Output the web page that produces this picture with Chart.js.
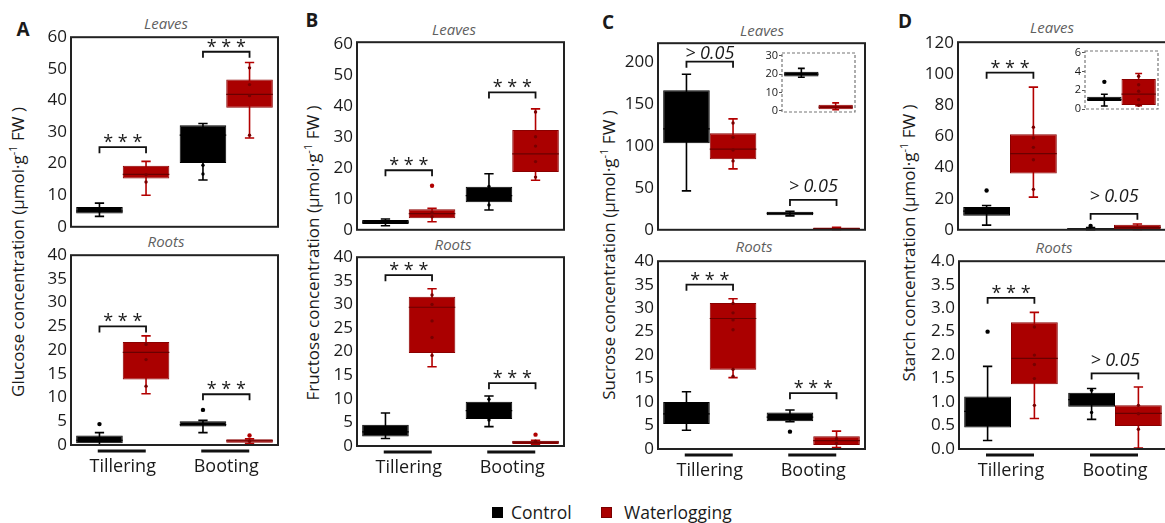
<!DOCTYPE html>
<html>
<head>
<meta charset="utf-8">
<script src="https://cdn.jsdelivr.net/npm/chart.js@4.4.1/dist/chart.umd.min.js"></script>
<style>
  body { margin: 0; background: #fff; width: 1165px; height: 523px; position: relative; overflow: hidden;
         font-family: 'Open Sans', sans-serif; color: #1a1a1a; }
  canvas { position: absolute; }
  .lbl { position: absolute; white-space: nowrap; transform: translate(-50%, -50%); }
  .panel { font-weight: bold; font-size: 19px; }
  .sub { font-style: italic; font-size: 15px; color: #5f5f5f; }
  .ylab { font-size: 17px; transform: translate(-50%, -50%) rotate(-90deg); }
  .ylab sup { font-size: 11px; }
  .leg { position: absolute; font-size: 17.5px; transform: translateY(-50%); white-space: nowrap; }
  .sq { position: absolute; width: 11px; height: 11px; }
</style>
</head>
<body>

<div class="lbl panel" style="left:23px;top:29px">A</div>
<div class="lbl panel" style="left:312px;top:20px">B</div>
<div class="lbl panel" style="left:608px;top:22px">C</div>
<div class="lbl panel" style="left:905px;top:21px">D</div>

<div class="lbl sub" style="left:166px;top:23px">Leaves</div>
<div class="lbl sub" style="left:166px;top:241px">Roots</div>
<div class="lbl sub" style="left:454px;top:29px">Leaves</div>
<div class="lbl sub" style="left:453px;top:244px">Roots</div>
<div class="lbl sub" style="left:762px;top:30px">Leaves</div>
<div class="lbl sub" style="left:754px;top:246px">Roots</div>
<div class="lbl sub" style="left:1052px;top:27px">Leaves</div>
<div class="lbl sub" style="left:1054px;top:247px">Roots</div>

<div class="lbl ylab" style="left:17px;top:252px">Glucose concentration (μmol·g<sup>-1</sup> FW )</div>
<div class="lbl ylab" style="left:312px;top:253px">Fructose concentration (μmol·g<sup>-1</sup> FW )</div>
<div class="lbl ylab" style="left:608px;top:255px">Sucrose concentration (μmol·g<sup>-1</sup> FW )</div>
<div class="lbl ylab" style="left:908px;top:243px">Starch concentration (μmol·g<sup>-1</sup> FW )</div>

<div class="sq" style="left:492px;top:507px;background:#000"></div>
<div class="leg" style="left:511px;top:512px">Control</div>
<div class="sq" style="left:601px;top:507px;background:#aa0000;box-shadow:inset 0 0 0 1px #7a0000"></div>
<div class="leg" style="left:624px;top:512px">Waterlogging</div>

<script>
// ---- data ---------------------------------------------------------------
const STAGES = ['Tillering', 'Booting'];
// every box: [min, q1, median, q3, max]  (one per stage)

// A - glucose
const glcLeafTicks = [0, 10, 20, 30, 40, 50, 60];
const glcLeafCtrl = [[3.3, 4.2, 5.0, 6.3, 7.5], [14.8, 20.2, 29.0, 32.1, 32.7]];
const glcLeafWater = [[10.0, 15.3, 16.6, 19.3, 20.7], [28.1, 37.7, 41.9, 46.6, 52.0]];
const glcLeafCtrlPts = [[5.0], [19.5, 16.7]];
const glcLeafWaterPts = [[16.5, 14.2], [50.3, 45.0, 41.5, 29.0]];
const glcLeafSig = ['***', '***'];
const glcLeafSigY = [25.2, 55.4];

const glcRootTicks = [0, 5, 10, 15, 20, 25, 30, 35, 40];
const glcRootCtrl = [[0.0, 0.35, 1.0, 2.0, 2.6], [2.6, 3.9, 4.3, 5.0, 5.2]];
const glcRootWater = [[10.8, 13.8, 19.5, 21.7, 23.0], [0.3, 0.5, 0.9, 1.2, 1.3]];
const glcRootCtrlOut = [[4.4], [7.4]];
const glcRootWaterOut = [[], [2.0]];
const glcRootWaterPts = [[21.2, 18.0, 12.4], [0.8]];
const glcRootSig = ['***', '***'];
const glcRootSigY = [25.0, 10.7];

// B - fructose
const fruLeafTicks = [0, 10, 20, 30, 40, 50, 60];
const fruLeafCtrl = [[1.3, 1.9, 2.5, 3.2, 3.5], [6.4, 8.9, 11.0, 13.9, 18.1]];
const fruLeafWater = [[2.6, 3.7, 5.2, 6.6, 6.9], [16.0, 18.6, 24.5, 32.2, 39.0]];
const fruLeafWaterOut = [[14.2], []];
const fruLeafCtrlPts = [[], [14.0, 8.0]];
const fruLeafWaterPts = [[5.5, 4.2], [38.0, 30.0, 27.0, 22.0, 17.0]];
const fruLeafSig = ['***', '***'];
const fruLeafSigY = [19.2, 44.3];

const fruRootTicks = [0, 5, 10, 15, 20, 25, 30, 35, 40];
const fruRootCtrl = [[1.6, 2.0, 3.0, 4.5, 7.0], [4.1, 5.7, 7.5, 9.4, 10.6]];
const fruRootWater = [[16.8, 19.7, 29.4, 31.6, 33.3], [0.3, 0.42, 0.8, 1.13, 1.2]];
const fruRootWaterOut = [[], [2.4]];
const fruRootCtrlPts = [[], [9.9, 5.5]];
const fruRootWaterPts = [[32.0, 30.0, 26.5, 23.0, 19.2], [1.0]];
const fruRootSig = ['***', '***'];
const fruRootSigY = [36.2, 13.3];

// C - sucrose
const sucLeafTicks = [0, 50, 100, 150, 200];
const sucLeafCtrl = [[46.3, 103.0, 120.0, 165.9, 185.0], [16.6, 17.4, 19.6, 21.4, 22.0]];
const sucLeafWater = [[72.5, 84.0, 96.0, 114.9, 132.0], [0.3, 0.5, 1.5, 2.6, 3.0]];
const sucLeafWaterPts = [[127.0, 110.0, 95.0, 82.0], []];
const sucLeafSig = ['> 0.05', '> 0.05'];
const sucLeafSigY = [200, 35.6];

const sucInsetTicks = [0, 10, 20, 30];
const sucInsetCtrl = [[18.3, 18.7, 20.0, 21.3, 23.1]];
const sucInsetWater = [[0.5, 0.8, 2.0, 3.3, 4.3]];

const sucRootTicks = [0, 5, 10, 15, 20, 25, 30, 35, 40];
const sucRootCtrl = [[4.0, 5.3, 7.5, 10.0, 12.2], [5.8, 5.9, 6.8, 7.8, 8.3]];
const sucRootWater = [[15.2, 16.9, 27.8, 31.1, 32.0], [0.3, 0.85, 1.8, 2.7, 3.8]];
const sucRootCtrlOut = [[], [3.7]];
const sucRootWaterPts = [[31.0, 29.0, 27.5, 25.4, 17.0, 15.5], [2.2, 1.2]];
const sucRootSig = ['***', '***'];
const sucRootSigY = [35.0, 11.9];

// D - starch
const staLeafTicks = [0, 20, 40, 60, 80, 100, 120];
const staLeafCtrl = [[3.0, 9.0, 12.0, 14.6, 15.6], [0.1, 0.3, 0.6, 1.0, 1.5]];
const staLeafWater = [[21.0, 36.2, 49.0, 61.5, 91.7], [0.3, 0.5, 1.6, 3.2, 3.7]];
const staLeafCtrlOut = [[25.3], [2.4]];
const staLeafWaterPts = [[66.0, 59.0, 53.0, 45.0, 26.0], []];
const staLeafSig = ['***', '> 0.05'];
const staLeafSigY = [101, 10.3];

const staInsetTicks = [0, 2, 4, 6];
const staInsetCtrl = [[0.32, 0.85, 1.0, 1.31, 1.57]];
const staInsetWater = [[0.35, 0.43, 1.6, 3.2, 3.8]];
const staInsetCtrlOut = [[2.9]];
const staInsetWaterPts = [[3.5, 2.6, 1.9, 1.0, 0.4]];

const staRootTicks = [0, 0.5, 1, 1.5, 2, 2.5, 3, 3.5, 4];
const staRootCtrl = [[0.18, 0.46, 0.8, 1.12, 1.76], [0.63, 0.9, 1.05, 1.2, 1.29]];
const staRootWater = [[0.65, 1.38, 1.93, 2.7, 2.91], [0.02, 0.49, 0.76, 0.93, 1.32]];
const staRootCtrlOut = [[2.5], []];
const staRootCtrlPts = [[], [1.25, 0.78]];
const staRootWaterPts = [[2.6, 2.0, 1.8, 1.5, 0.93], [0.93, 0.75, 0.42]];
const staRootSig = ['***', '> 0.05'];
const staRootSigY = [3.22, 1.61];

// ---- style --------------------------------------------------------------
const FONT = "'Open Sans', sans-serif";
const CTRL = { fill: '#000', border: '#000', whisker: '#000', median: '#000', pt: '#000', out: '#000' };
const WATER = { fill: '#aa0000', border: '#8a0000', whisker: '#b30000', median: '#6a0000', pt: '#780000', out: '#b00000' };

// whiskers, medians, points, frame, brackets
const boxPlugin = {
  id: 'boxes',
  beforeDatasetsDraw(chart) {
    const ctx = chart.ctx, ys = chart.scales.y;
    chart.data.datasets.forEach((ds, di) => {
      chart.getDatasetMeta(di).data.forEach((bar, i) => {
        const s = ds.stats[i];
        const cw = bar.width * 0.1;
        ctx.save();
        ctx.strokeStyle = ds.whisker;
        ctx.lineWidth = 1.6;
        ctx.beginPath();
        ctx.moveTo(bar.x, ys.getPixelForValue(s[0]));
        ctx.lineTo(bar.x, ys.getPixelForValue(s[4]));
        [s[0], s[4]].forEach(v => {
          const py = ys.getPixelForValue(v);
          ctx.moveTo(bar.x - cw, py); ctx.lineTo(bar.x + cw, py);
        });
        ctx.stroke();
        ctx.restore();
      });
    });
  },
  afterDatasetsDraw(chart) {
    const ctx = chart.ctx, ys = chart.scales.y;
    chart.data.datasets.forEach((ds, di) => {
      chart.getDatasetMeta(di).data.forEach((bar, i) => {
        const s = ds.stats[i], hw = bar.width / 2;
        ctx.save();
        ctx.strokeStyle = ds.median;
        ctx.lineWidth = 1.2;
        ctx.beginPath();
        ctx.moveTo(bar.x - hw, ys.getPixelForValue(s[2]));
        ctx.lineTo(bar.x + hw, ys.getPixelForValue(s[2]));
        ctx.stroke();
        ctx.fillStyle = ds.ptColor;
        (ds.pts[i] || []).forEach(v => {
          ctx.beginPath(); ctx.arc(bar.x, ys.getPixelForValue(v), 1.7, 0, Math.PI * 2); ctx.fill();
        });
        ctx.fillStyle = ds.outColor;
        (ds.out[i] || []).forEach(v => {
          ctx.beginPath(); ctx.arc(bar.x, ys.getPixelForValue(v), 2.2, 0, Math.PI * 2); ctx.fill();
        });
        ctx.restore();
      });
    });
  },
  afterDraw(chart, args, opts) {
    const ctx = chart.ctx, a = chart.chartArea, ys = chart.scales.y;
    ctx.save();
    if (opts.dashed) {
      ctx.setLineDash([3, 2]); ctx.strokeStyle = '#777'; ctx.lineWidth = 1.2;
    } else {
      ctx.strokeStyle = '#222'; ctx.lineWidth = 2;
    }
    ctx.strokeRect(a.left, a.top, a.right - a.left, a.bottom - a.top);
    ctx.setLineDash([]);

    if (opts.underline) {
      ctx.strokeStyle = '#111'; ctx.lineWidth = 3;
      chart.data.labels.forEach((l, i) => {
        const cx = chart.scales.x.getPixelForValue(i) - 1;
        ctx.beginPath(); ctx.moveTo(cx - 24, a.bottom + 6); ctx.lineTo(cx + 24, a.bottom + 6); ctx.stroke();
      });
    }

    (opts.sig || []).forEach((txt, i) => {
      const x1 = chart.getDatasetMeta(0).data[i].x, x2 = chart.getDatasetMeta(1).data[i].x;
      const y = ys.getPixelForValue(opts.sigY[i]);
      ctx.strokeStyle = '#111'; ctx.lineWidth = 1.8;
      ctx.beginPath();
      ctx.moveTo(x1, y + 6); ctx.lineTo(x1, y); ctx.lineTo(x2, y); ctx.lineTo(x2, y + 6);
      ctx.stroke();
      ctx.fillStyle = '#1a1a1a'; ctx.textAlign = 'center'; ctx.textBaseline = 'alphabetic';
      if (txt === '***') {
        ctx.font = '18px ' + FONT;
        ctx.fillText('* * *', (x1 + x2) / 2, y + 1);
      } else {
        ctx.font = 'italic 18px ' + FONT;
        ctx.fillText(txt, (x1 + x2) / 2, y - ((opts.gap && opts.gap[i]) ?? 6));
      }
    });
    ctx.restore();
  }
};

function boxChart(g, cfg) {
  const axW = cfg.axW ?? 45, padT = 14, padR = 6;
  const padB = cfg.bottom ? 0 : 14, xH = cfg.bottom ? 40 : 0;
  const cv = document.createElement('canvas');
  cv.width = axW + g.w + padR;
  cv.height = padT + g.h + padB + xH;
  cv.style.left = (g.x - axW) + 'px';
  cv.style.top = (g.y - padT) + 'px';
  document.body.appendChild(cv);
  const tickSize = cfg.tickSize ?? 17;
  const mk = (name, st, stats, pts, out) => ({
    label: name,
    data: stats.map(s => [s[1], s[3]]),
    stats, pts: pts || [], out: out || [],
    backgroundColor: st.fill, borderColor: st.border, borderWidth: 1, borderSkipped: false,
    whisker: st.whisker, median: st.median, ptColor: st.pt, outColor: st.out
  });
  return new Chart(cv, {
    type: 'bar',
    data: {
      labels: cfg.labels ?? STAGES,
      datasets: [
        mk('Control', CTRL, cfg.ctrl, cfg.ctrlPts, cfg.ctrlOut),
        mk('Waterlogging', WATER, cfg.water, cfg.waterPts, cfg.waterOut)
      ]
    },
    options: {
      responsive: false, animation: false, devicePixelRatio: 1,
      layout: { padding: { top: padT, right: padR, bottom: padB, left: 0 } },
      datasets: { bar: { barPercentage: 1, categoryPercentage: cfg.catPct ?? 0.9 } },
      plugins: {
        legend: { display: false }, tooltip: { enabled: false },
        boxes: { sig: cfg.sig, sigY: cfg.sigY, gap: cfg.gap, underline: cfg.bottom, dashed: cfg.dashed }
      },
      scales: {
        x: {
          display: !!cfg.bottom,
          grid: { display: false, drawTicks: false }, border: { display: false },
          ticks: { padding: 11, color: '#1a1a1a', font: { family: FONT, size: 18 } },
          afterFit: s => { s.height = xH; }
        },
        y: {
          min: cfg.min, max: cfg.max,
          grid: cfg.dashed
            ? { display: true, drawOnChartArea: false, drawTicks: true, tickLength: 3, color: '#555' }
            : { display: false, drawTicks: false },
          border: { display: false },
          ticks: {
            padding: cfg.dashed ? 1 : 4, color: '#1a1a1a',
            font: { family: FONT, size: tickSize },
            callback: v => cfg.fmt ? cfg.fmt(v) : v
          },
          afterBuildTicks: s => { s.ticks = cfg.ticks.map(v => ({ value: v })); },
          afterFit: s => { s.width = axW; }
        }
      }
    },
    plugins: [boxPlugin]
  });
}

// ---- panels -------------------------------------------------------------
boxChart({ x: 71, y: 37, w: 207, h: 190 }, { min: 0, max: 60, ticks: glcLeafTicks,
  ctrl: glcLeafCtrl, water: glcLeafWater, ctrlPts: glcLeafCtrlPts, waterPts: glcLeafWaterPts,
  sig: glcLeafSig, sigY: glcLeafSigY });
boxChart({ x: 71, y: 255, w: 207, h: 190 }, { min: 0, max: 40, ticks: glcRootTicks, bottom: true,
  ctrl: glcRootCtrl, water: glcRootWater, ctrlOut: glcRootCtrlOut, waterOut: glcRootWaterOut,
  waterPts: glcRootWaterPts, sig: glcRootSig, sigY: glcRootSigY });

boxChart({ x: 357, y: 42, w: 207, h: 188 }, { min: 0, max: 60.5, ticks: fruLeafTicks,
  ctrl: fruLeafCtrl, water: fruLeafWater, waterOut: fruLeafWaterOut, ctrlPts: fruLeafCtrlPts,
  waterPts: fruLeafWaterPts, sig: fruLeafSig, sigY: fruLeafSigY });
boxChart({ x: 357, y: 257, w: 207, h: 189 }, { min: 0, max: 40, ticks: fruRootTicks, bottom: true,
  ctrl: fruRootCtrl, water: fruRootWater, waterOut: fruRootWaterOut, ctrlPts: fruRootCtrlPts,
  waterPts: fruRootWaterPts, sig: fruRootSig, sigY: fruRootSigY });

boxChart({ x: 658, y: 43, w: 207, h: 187 }, { min: 0, max: 222, ticks: sucLeafTicks,
  ctrl: sucLeafCtrl, water: sucLeafWater, waterPts: sucLeafWaterPts,
  sig: sucLeafSig, sigY: sucLeafSigY, gap: [3, 8] });
boxChart({ x: 658, y: 261, w: 207, h: 188 }, { min: 0, max: 40, ticks: sucRootTicks, bottom: true,
  ctrl: sucRootCtrl, water: sucRootWater, ctrlOut: sucRootCtrlOut, waterPts: sucRootWaterPts,
  sig: sucRootSig, sigY: sucRootSigY });
boxChart({ x: 782, y: 53, w: 73, h: 59 }, { min: -0.7, max: 31.5, ticks: sucInsetTicks,
  labels: [''], catPct: 0.94, dashed: true, axW: 18, tickSize: 11,
  ctrl: sucInsetCtrl, water: sucInsetWater });

boxChart({ x: 958, y: 42, w: 208, h: 188 }, { min: 0, max: 120.6, ticks: staLeafTicks,
  ctrl: staLeafCtrl, water: staLeafWater, ctrlOut: staLeafCtrlOut, waterPts: staLeafWaterPts,
  sig: staLeafSig, sigY: staLeafSigY, gap: [6, 12] });
boxChart({ x: 959, y: 261, w: 208, h: 188 }, { min: 0, max: 4, ticks: staRootTicks, bottom: true,
  fmt: v => v.toFixed(1),
  ctrl: staRootCtrl, water: staRootWater, ctrlOut: staRootCtrlOut, ctrlPts: staRootCtrlPts,
  waterPts: staRootWaterPts, sig: staRootSig, sigY: staRootSigY, gap: [6, 7] });
boxChart({ x: 1085, y: 51, w: 73, h: 58 }, { min: 0, max: 6.2, ticks: staInsetTicks,
  labels: [''], catPct: 0.94, dashed: true, axW: 18, tickSize: 11,
  ctrl: staInsetCtrl, water: staInsetWater, ctrlOut: staInsetCtrlOut, waterPts: staInsetWaterPts });
</script>
</body>
</html>
